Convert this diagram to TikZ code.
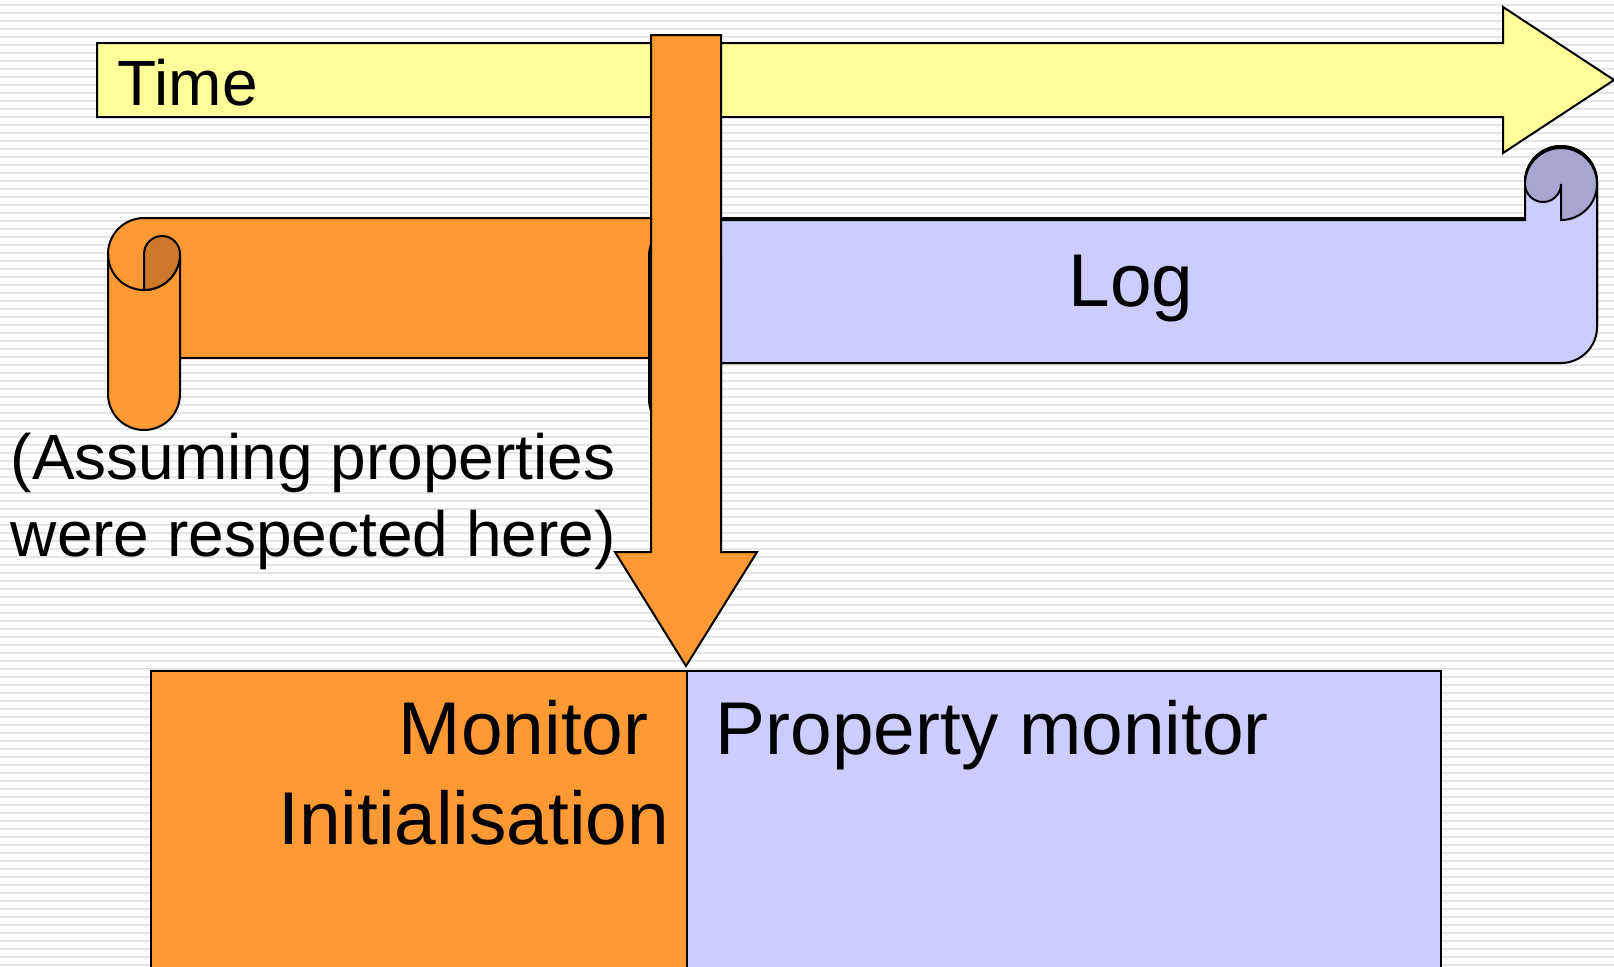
\documentclass[tikz,border=0pt]{standalone}
\usepackage{fontspec}
\setmainfont{Liberation Sans}
\definecolor{lemon}{HTML}{FFFF99}
\definecolor{tangerine}{HTML}{FF9933}
\definecolor{darktangerine}{HTML}{CC7A29}
\definecolor{lilac}{HTML}{CCCCFF}
\definecolor{darklilac}{HTML}{A6A6D0}

% scroll: left, right, top, bottom, paper colour, curl colour
\newcommand{\logscroll}[6]{%
\filldraw[shape line, fill=#5] ({#1+36},{#3+72}) -- ({#2-72},{#3+72}) -- ({#2-72},{#3+36})
  arc[start angle=180, end angle=360, radius=36] -- ({#2},{#4-108})
  arc[start angle=0, end angle=90, radius=36] -- ({#1+72},{#4-72}) -- ({#1+72},{#4-36})
  arc[start angle=0, end angle=180, radius=36] -- ({#1},{#3+108})
  arc[start angle=180, end angle=270, radius=36] -- cycle;
\draw[shape line] ({#1},{#3+108}) arc[start angle=180, end angle=0, radius=36] -- ({#1+72},{#4-72});
\filldraw[shape line, fill=#6] ({#1+36},{#3+108}) arc[start angle=180, end angle=360, radius=18]
  arc[start angle=0, end angle=90, radius=36] -- cycle;
\filldraw[shape line, fill=#6] ({#2-72},{#3+36}) arc[start angle=180, end angle=450, radius=36]
  -- ({#2-36},{#3+36}) arc[start angle=0, end angle=180, radius=18] -- cycle;
}

\begin{document}
\begin{tikzpicture}[x=0.25pt, y=-0.25pt]
\tikzset{shape line/.style = {draw=black, line width=0.5pt, line join=miter}}
\tikzset{stripe/.style = {draw=gray!20, line width=0.5pt}}
\tikzset{txt/.style = {inner sep=0pt, font=\fontsize{16}{19.25}\selectfont}}
\tikzset{bigtxt/.style = {inner sep=0pt, font=\fontsize{18.7}{22.5}\selectfont}}
\useasboundingbox (0,0) rectangle (1614,966);
\clip (0,0) rectangle (1614,966);

% striped background
\fill[white] (0,0) rectangle (1614,966);
\foreach \y in {5,13,...,965}
  \draw[stripe] (0,\y) -- (1614,\y);

% time arrow
\filldraw[shape line, fill=lemon] (97,43) -- (1503,43) -- (1503,7) -- (1614,80)
  -- (1503,153) -- (1503,117) -- (97,117) -- cycle;
\node[txt, anchor=base west] (time) at (117,105) {Time};

% the log
\logscroll{108}{1597}{146}{430}{tangerine}{darktangerine}
\logscroll{649}{1597}{148}{435}{lilac}{darklilac}
\node[bigtxt, anchor=base west] (log) at (1068,306) {Log};

% down arrow
\filldraw[shape line, fill=tangerine] (651,35) -- (721,35) -- (721,552) -- (757,552)
  -- (686,666) -- (615,552) -- (651,552) -- cycle;

% base of a two line node is its last line
\node[txt, anchor=base west, align=left] (note) at (10,556) {(Assuming properties\\were respected here)};

% monitor boxes
\filldraw[shape line, fill=tangerine] (151,671) rectangle (687,990);
\filldraw[shape line, fill=lilac] (687,671) rectangle (1441,990);
\node[bigtxt, anchor=base east, align=right] (init) at (670,844) {Monitor\hspace*{0.278em}\\Initialisation};
\node[bigtxt, anchor=base west] (prop) at (715,754) {Property monitor};
\end{tikzpicture}
\end{document}
